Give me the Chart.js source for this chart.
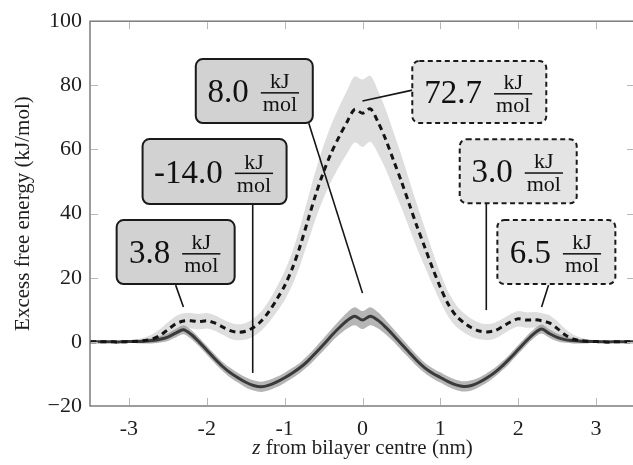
<!DOCTYPE html>
<html><head><meta charset="utf-8">
<script src="https://cdn.jsdelivr.net/npm/chart.js@4/dist/chart.umd.min.js"></script>
<style>
html,body{margin:0;padding:0;overflow:hidden;background:#fff;width:633px;height:465px}
#wrap{position:absolute;left:0;top:0;width:640px;height:465px}
</style>
</head><body><div id="wrap"><canvas id="c" width="640" height="465"></canvas></div>
<script>
// z (nm) sample positions
const zValues = [-3.5,-3.4,-3.3,-3.2,-3.1,-3.0,-2.9,-2.8,-2.7,-2.6,-2.5,-2.4,-2.3,-2.2,-2.1,-2.0,-1.9,-1.8,-1.7,-1.6,-1.5,-1.4,-1.3,-1.2,-1.1,-1.0,-0.9,-0.8,-0.7,-0.6,-0.5,-0.4,-0.3,-0.2,-0.1,0,0.1,0.2,0.3,0.4,0.5,0.6,0.7,0.8,0.9,1.0,1.1,1.2,1.3,1.4,1.5,1.6,1.7,1.8,1.9,2.0,2.1,2.2,2.3,2.4,2.5,2.6,2.7,2.8,2.9,3.0,3.1,3.2,3.3,3.4,3.5];
// solid curve (kJ/mol) and its band half-width
const solidMean = [0,0,0,0,0, 0.1,0.1,0.2,0.4,0.8,1.5,2.7,3.8,2.3,0.0, -2.6,-5.2,-7.6,-9.6,-11.2,-12.6,-13.6,-14.0,-13.5,-12.5, -11.2,-9.7,-8.0,-5.9,-3.4,-0.8,1.9,4.4,6.6,8.0, 6.8, 8.0,6.7,4.5,2.0,-0.7,-3.3,-5.9,-8.1,-9.8,-11.1, -12.4,-13.4,-13.9,-13.6,-12.6,-11.2,-9.5,-7.4,-5.0,-2.4, 0.2,2.5,4.0,2.6,1.4,0.7,0.4,0.2,0.1,0.1, 0,0,0,0,0];
const solidErr = [0.3,0.3,0.3,0.3,0.3, 0.4,0.5,0.6,0.8,1.0,1.2,1.3,1.4,1.4,1.4, 1.4,1.4,1.4,1.5,1.5,1.6,1.6,1.6,1.6,1.6, 1.6,1.6,1.6,1.7,1.8,1.9,2.0,2.2,2.5,2.8, 2.8, 2.8,2.5,2.2,2.0,1.9,1.8,1.7,1.6,1.6,1.6, 1.6,1.6,1.6,1.6,1.5,1.5,1.4,1.4,1.4,1.4, 1.4,1.4,1.4,1.3,1.2,1.0,0.8,0.6,0.5,0.4, 0.3,0.3,0.3,0.3,0.3];
// dashed curve (kJ/mol) and its band half-width
const dashedMean = [0,0,0,0,0, 0.1,0.2,0.4,0.9,2.0,3.8,5.6,6.5,6.6,6.3, 6.6,5.9,4.7,3.5,3.0,3.3,4.5,6.5,9.5,13.3, 17.5,23,30,38,46,53,59,64,68.5,72.5, 71.3, 72.7,68.5,63,56.5,50,43,36,29.5,23,17, 11.8,8.2,6.0,4.4,3.4,3.1,3.5,4.8,6.2,7.2, 6.8,6.9,6.6,5.9,4.2,2.2,0.9,0.4,0.2,0.1, 0,0,0,0,0];
const dashedErr = [0.3,0.3,0.3,0.3,0.3, 0.4,0.6,1.0,1.5,2.0,2.3,2.4,2.4,2.4,2.4, 2.4,2.4,2.4,2.5,2.5,2.6,2.8,3.0,3.4,3.9, 4.5,5.2,6.0,6.8,7.5,8.2,8.8,9.3,9.8,10.3, 10.5, 10.3,9.8,9.3,8.8,8.2,7.5,6.8,6.0,5.2,4.5, 3.9,3.4,3.0,2.8,2.6,2.5,2.5,2.4,2.4,2.4, 2.4,2.4,2.4,2.4,2.3,2.0,1.5,1.0,0.6,0.4, 0.3,0.3,0.3,0.3,0.3];

const xTickValues = [-3,-2,-1,0,1,2,3];
const xTickLabels = ['-3','-2','-1','0','1','2','3'];
const yTickValues = [-20,0,20,40,60,80,100];
const yTickLabels = ['\u221220','0','20','40','60','80','100'];

const annotationValues = ['8.0','-14.0','3.8','72.7','3.0','6.5'];
const annotationUnitTop = 'kJ', annotationUnitBottom = 'mol';
const xTitleItalic = 'z', xTitleRest = ' from bilayer centre (nm)';
const yTitle = 'Excess free energy (kJ/mol)';

// layout of callouts (data coordinates for anchor/leader, px for box size)
const calloutLayout = [
  {cx:-1.39, cy:78.2, w:117, h:64, dashed:false, from:[-0.69,68.2], to:[0,15.2]},
  {cx:-1.90, cy:53.1, w:144, h:65, dashed:false, from:[-1.41,43.0], to:[-1.41,-9.7]},
  {cx:-2.40, cy:28.0, w:118, h:64, dashed:false, from:[-2.40,17.7], to:[-2.30,10.9]},
  {cx:1.50,  cy:77.9, w:134, h:62, dashed:true,  from:[0.64,78.5], to:[0,75.1]},
  {cx:2.00,  cy:53.2, w:117, h:64, dashed:true,  from:[1.59,43.3], to:[1.59,9.9]},
  {cx:2.49,  cy:28.0, w:118, h:64, dashed:true,  from:[2.39,17.7], to:[2.30,10.9]}
];

const SERIF = '"Liberation Serif", "DejaVu Serif", serif';
const pts = (arr) => zValues.map((z,i)=>({x:z, y:arr[i]}));
const ptsOff = (arr, err, s) => zValues.map((z,i)=>({x:z, y:arr[i] + s*err[i]}));

const overlay = {
  id:'overlay',
  afterDraw(chart){
    const {ctx, chartArea:a, scales:{x, y}} = chart;
    ctx.save();
    // frame
    ctx.strokeStyle = '#7c7c7c'; ctx.lineWidth = 1.5;
    ctx.strokeRect(a.left, a.top, a.right - a.left, a.bottom - a.top);
    // inward ticks
    ctx.strokeStyle = '#b8b8b8'; ctx.lineWidth = 1;
    const seg = (x1,y1,x2,y2)=>{ctx.beginPath();ctx.moveTo(x1,y1);ctx.lineTo(x2,y2);ctx.stroke();};
    xTickValues.forEach(v=>{const px=Math.round(x.getPixelForValue(v))+0.5; seg(px,a.bottom-1,px,a.bottom-8); seg(px,a.top+1,px,a.top+8);});
    yTickValues.forEach(v=>{const py=Math.round(y.getPixelForValue(v))+0.5; if(v===-20||v===100) return; seg(a.left+1,py,a.left+8,py); seg(a.right-1,py,a.right-8,py);});
    // titles
    ctx.fillStyle = '#1e1e1e';
    ctx.textBaseline = 'middle';
    ctx.font = '21px ' + SERIF;
    ctx.save(); ctx.translate(23, (a.top + a.bottom)/2); ctx.rotate(-Math.PI/2);
    ctx.textAlign = 'center'; ctx.fillText(yTitle, 0, 0); ctx.restore();
    ctx.font = 'italic 21px ' + SERIF; const wz = ctx.measureText(xTitleItalic).width;
    ctx.font = '21px ' + SERIF; const wr = ctx.measureText(xTitleRest).width;
    const tx = (a.left + a.right)/2 - (wz + wr)/2;
    ctx.textAlign = 'left';
    ctx.font = 'italic 21px ' + SERIF; ctx.fillText(xTitleItalic, tx, 448);
    ctx.font = '21px ' + SERIF; ctx.fillText(xTitleRest, tx + wz, 448);
    // callouts
    calloutLayout.forEach((c, i)=>{
      ctx.strokeStyle = '#151515'; ctx.lineWidth = 1.6; ctx.setLineDash([]);
      seg(x.getPixelForValue(c.from[0]), y.getPixelForValue(c.from[1]), x.getPixelForValue(c.to[0]), y.getPixelForValue(c.to[1]));
    });
    calloutLayout.forEach((c, i)=>{
      const cx = x.getPixelForValue(c.cx), cy = y.getPixelForValue(c.cy);
      const bx = cx - c.w/2, by = cy - c.h/2;
      ctx.beginPath(); ctx.roundRect(bx, by, c.w, c.h, 7);
      ctx.fillStyle = c.dashed ? '#e4e4e4' : '#d2d2d2'; ctx.fill();
      ctx.setLineDash(c.dashed ? [5,3.5] : []); ctx.lineWidth = 2; ctx.strokeStyle = '#1a1a1a'; ctx.stroke(); ctx.setLineDash([]);
      const label = annotationValues[i];
      ctx.font = '33px ' + SERIF; const w1 = ctx.measureText(label).width;
      ctx.font = '22px ' + SERIF; const w2 = Math.max(ctx.measureText(annotationUnitTop).width, ctx.measureText(annotationUnitBottom).width) + 4;
      const gap = 12, total = w1 + gap + w2, sx = cx - total/2 - 1;
      ctx.fillStyle = '#111'; ctx.textBaseline = 'alphabetic'; ctx.textAlign = 'left';
      ctx.font = '33px ' + SERIF; ctx.fillText(label, sx, cy + 11);
      const fx = sx + w1 + gap + w2/2;
      ctx.font = '22px ' + SERIF; ctx.textAlign = 'center';
      ctx.fillText(annotationUnitTop, fx, cy - 3);
      ctx.fillText(annotationUnitBottom, fx, cy + 20);
      ctx.fillRect(fx - w2/2, cy + 1, w2, 1.5);
    });
    ctx.restore();
  }
};

new Chart(document.getElementById('c'), {
  type:'line',
  data:{datasets:[
    {label:'dashed', data:pts(dashedMean), borderColor:'#141414', borderWidth:3, borderDash:[6,4.5], pointRadius:0, fill:false, tension:0.3},
    {label:'solid', data:pts(solidMean), borderColor:'#3a3a3a', borderWidth:3, pointRadius:0, fill:false, tension:0.3},
    {label:'solidUp', data:ptsOff(solidMean, solidErr, 1), borderWidth:0, pointRadius:0, backgroundColor:'rgba(150,150,150,0.7)', fill:'+1', tension:0.3},
    {label:'solidLo', data:ptsOff(solidMean, solidErr, -1), borderWidth:0, pointRadius:0, fill:false, tension:0.3},
    {label:'dashedUp', data:ptsOff(dashedMean, dashedErr, 1), borderWidth:0, pointRadius:0, backgroundColor:'#dedede', fill:'+1', tension:0.3},
    {label:'dashedLo', data:ptsOff(dashedMean, dashedErr, -1), borderWidth:0, pointRadius:0, fill:false, tension:0.3}
  ]},
  options:{
    responsive:false, animation:false, devicePixelRatio:1,
    layout:{padding:{left:0, top:21, right:5, bottom:0}},
    plugins:{legend:{display:false}, tooltip:{enabled:false}},
    scales:{
      x:{type:'linear', min:-3.5, max:3.5,
         afterBuildTicks:(s)=>{s.ticks = xTickValues.map(v=>({value:v}));},
         afterFit:(s)=>{s.height = 59;},
         grid:{display:false, drawTicks:false}, border:{display:false},
         ticks:{padding:10, color:'#1e1e1e', font:{family:SERIF, size:22}, callback:(v,i)=>xTickLabels[i]}},
      y:{type:'linear', min:-20, max:100,
         afterBuildTicks:(s)=>{s.ticks = yTickValues.map(v=>({value:v}));},
         afterFit:(s)=>{s.width = 90;},
         grid:{display:false, drawTicks:false}, border:{display:false},
         ticks:{padding:8, color:'#1e1e1e', font:{family:SERIF, size:22}, callback:(v,i)=>yTickLabels[i]}}
    }
  },
  plugins:[overlay]
});
</script>
</body></html>
